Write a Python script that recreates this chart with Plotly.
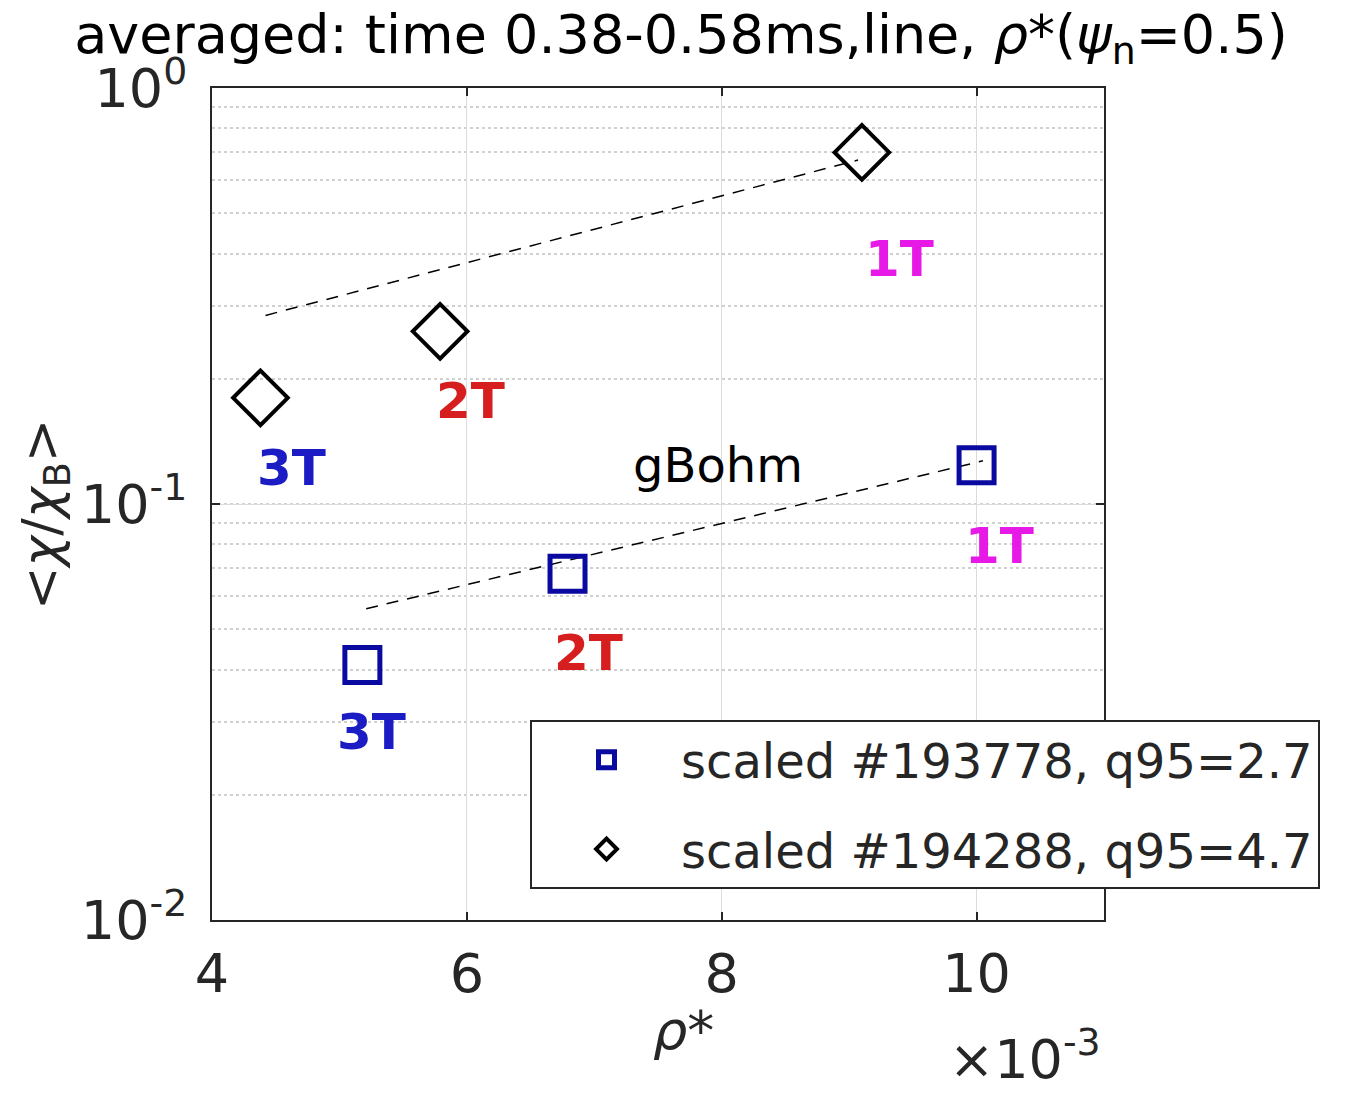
import math
import plotly.graph_objects as go

# ---- data ----
field_labels = ["3T", "2T", "1T"]
label_colors = ["#1c1cc4", "#d61e1e", "#e619e6"]

rho_193778 = [5.18, 6.79, 10.0]
chi_193778 = [0.041, 0.068, 0.124]
rho_194288 = [4.38, 5.79, 9.10]
chi_194288 = [0.18, 0.26, 0.70]

fit_rho_193778 = [5.21, 10.05]
fit_chi_193778 = [0.056, 0.127]
fit_rho_194288 = [4.42, 9.07]
fit_chi_194288 = [0.284, 0.671]

gbohm_label_pos = (7.97, 0.124)

y_tickvals = [0.01, 0.1, 1]
y_ticktext = ["10<sup>-2</sup>", "10<sup>-1</sup>", "10<sup>0</sup>"]
x_tickvals = [4, 6, 8, 10]

FONT = "DejaVu Sans"
TXT = "#262626"
FS_TICK = 54
FS_LEG = 48
FS_LAB = 50

# page has an 8px body margin; figure sized to fit the window
OFF = 8
W, H = 1345 - OFF, 1095 - OFF
# plot-area in page pixels
L, R, T, B = 212, 1104, 88, 920
PW, PH = R - L, B - T


def px(x):
    return (x - L) / PW


def py(y):
    return (B - y) / PH


fig = go.Figure()

fig.add_trace(go.Scatter(x=fit_rho_193778, y=fit_chi_193778, mode="lines",
                         line=dict(color="black", width=1.5, dash="12px,9px"),
                         showlegend=False, hoverinfo="skip"))
fig.add_trace(go.Scatter(x=fit_rho_194288, y=fit_chi_194288, mode="lines",
                         line=dict(color="black", width=1.5, dash="12px,9px"),
                         showlegend=False, hoverinfo="skip"))

fig.add_trace(go.Scatter(x=rho_193778, y=chi_193778, mode="markers",
                         name="scaled #193778, q95=2.7", legendgroup="a",
                         marker=dict(symbol="square-open", size=35,
                                     color="#0a0aa0", line=dict(width=5, color="#0a0aa0"))))
fig.add_trace(go.Scatter(x=rho_194288, y=chi_194288, mode="markers",
                         name="scaled #194288, q95=4.7", legendgroup="b",
                         marker=dict(symbol="diamond-open", size=42,
                                     color="black", line=dict(width=4, color="black"))))

# field labels (offsets in pixels)
sq_shift = [(9, -67), (21, -79), (23, -81)]
di_shift = [(31, -70), (30, -70), (38, -107)]
for i, lab in enumerate(field_labels):
    fig.add_annotation(x=rho_193778[i], y=math.log10(chi_193778[i]), xref="x", yref="y",
                       text="<b>%s</b>" % lab, showarrow=False,
                       xanchor="center", yanchor="middle",
                       xshift=sq_shift[i][0], yshift=sq_shift[i][1],
                       font=dict(family=FONT, size=FS_LAB, color=label_colors[i]))
    fig.add_annotation(x=rho_194288[i], y=math.log10(chi_194288[i]), xref="x", yref="y",
                       text="<b>%s</b>" % lab, showarrow=False,
                       xanchor="center", yanchor="middle",
                       xshift=di_shift[i][0], yshift=di_shift[i][1],
                       font=dict(family=FONT, size=FS_LAB, color=label_colors[i]))

fig.add_annotation(x=gbohm_label_pos[0], y=math.log10(gbohm_label_pos[1]), xref="x", yref="y",
                   text="gBohm", showarrow=False, xanchor="center", yanchor="middle",
                   font=dict(family=FONT, size=FS_LEG, color="black"))

# axis titles
fig.add_annotation(x=px(45), y=py(515), xref="paper", yref="paper",
                   text="&lt;<i>χ</i>/<i>χ</i><sub>B</sub>&gt;", textangle=-90,
                   xanchor="center", yanchor="middle",
                   showarrow=False, font=dict(family=FONT, size=52, color=TXT))
fig.add_annotation(x=px(683), y=py(1030), xref="paper", yref="paper",
                   text="<i>ρ</i>*", showarrow=False, xanchor="center", yanchor="middle",
                   font=dict(family=FONT, size=FS_TICK, color=TXT))
fig.add_annotation(x=px(1025), y=py(1055), xref="paper", yref="paper",
                   text="×10<sup>-3</sup>", showarrow=False, xanchor="center", yanchor="middle",
                   font=dict(family=FONT, size=FS_TICK, color=TXT))

axis_common = dict(showline=True, linecolor=TXT, linewidth=2, mirror="ticks",
                   ticks="inside", ticklen=8, tickcolor=TXT, tickwidth=2,
                   zeroline=False, showgrid=True, gridcolor="#dcdcdc", gridwidth=1,
                   tickfont=dict(family=FONT, size=FS_TICK, color=TXT))

fig.update_layout(
    width=W, height=H,
    margin=dict(l=L - OFF, r=W - (R - OFF), t=T - OFF, b=H - (B - OFF), autoexpand=False),
    paper_bgcolor="white", plot_bgcolor="white",
    font=dict(family=FONT, size=FS_LEG, color=TXT),
    title=dict(text="averaged: time 0.38-0.58ms,line, <i>ρ</i>*(<i>ψ</i><sub>n</sub>=0.5)",
               x=(681 - OFF) / W, xanchor="center", y=1 - (34 - OFF) / H, yanchor="middle",
               xref="container", yref="container",
               font=dict(family=FONT, size=54, color="black")),
    xaxis=dict(range=[4, 11], tickvals=x_tickvals, ticklabelstandoff=5, **axis_common),
    yaxis=dict(type="log", range=[-2, 0], tickvals=y_tickvals, ticktext=y_ticktext,
               ticklabelstandoff=12,
               minor=dict(dtick="D1", showgrid=True, gridcolor="#d0d0d0", griddash="dot",
                          gridwidth=1.5, ticks=""),
               **axis_common),
    legend=dict(x=px(530), y=py(720), xanchor="left", yanchor="top",
                bordercolor=TXT, borderwidth=2, bgcolor="white", itemwidth=139,
                tracegroupgap=24,
                font=dict(family=FONT, size=FS_LEG, color=TXT)),
    showlegend=True,
)

fig.write_html("out.html")
